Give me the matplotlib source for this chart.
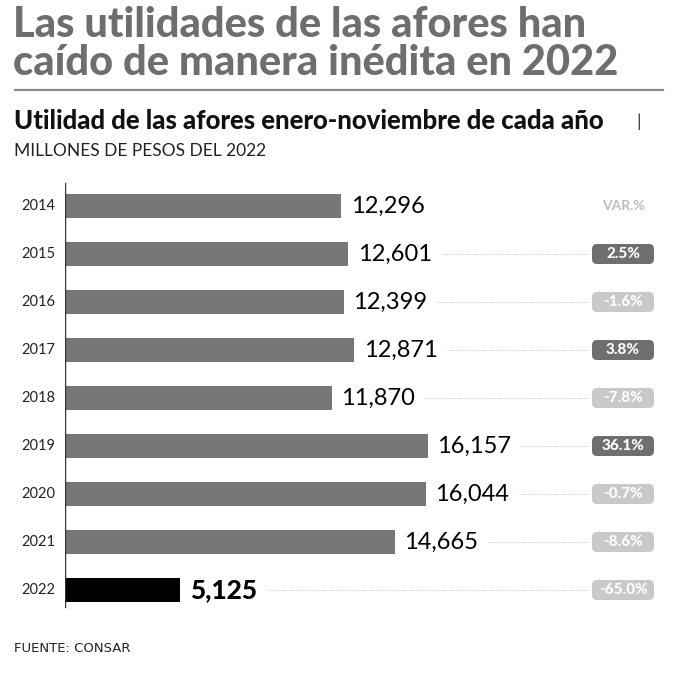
import matplotlib.pyplot as plt
from matplotlib.patches import FancyBboxPatch
from matplotlib.transforms import IdentityTransform

years = ['2014', '2015', '2016', '2017', '2018', '2019', '2020', '2021', '2022']
utilidad = [12296, 12601, 12399, 12871, 11870, 16157, 16044, 14665, 5125]
variacion = [None, 2.5, -1.6, 3.8, -7.8, 36.1, -0.7, -8.6, -65.0]

W, H = 679, 679
fig = plt.figure(figsize=(W / 100, H / 100), dpi=100)

def px(x, y):
    # pixel coords (top-left origin) -> figure fraction
    return x / W, 1 - y / H

# titles
fig.text(*px(13, 25), 'Las utilidades de las afores han', fontsize=30,
         fontweight='black', color='#6e6e6e', family='Lato', va='center')
fig.text(*px(13, 63), 'caído de manera inédita en 2022', fontsize=30,
         fontweight='black', color='#6e6e6e', family='Lato', va='center')
fig.add_artist(plt.Line2D([15 / W, 663 / W], [1 - 90 / H, 1 - 90 / H],
                          color='#8a8a8a', lw=1.6))
fig.text(*px(14, 121), 'Utilidad de las afores enero-noviembre de cada año',
         fontsize=18.5, fontweight='black', color='#111111', family='Lato', va='center')
fig.text(*px(636, 122), '|', fontsize=13, color='#333333', family='Lato', va='center')
fig.text(*px(14, 151), 'MILLONES DE PESOS DEL 2022', fontsize=12.5,
         color='#222222', family='Lato', va='center')
fig.text(*px(14, 648), 'FUENTE: CONSAR', fontsize=9.5, color='#222222',
         family='Liberation Sans Narrow', va='center')

# axes: rows of 48 px starting at y=182
ax = fig.add_axes([65 / W, 1 - 614 / H, (W - 65) / W, 432 / H])
scale = 0.02247  # px per unit
ax.set_xlim(0, (W - 65) / scale)
ax.set_ylim(len(years) - 0.5, -0.5)
ax.axis('off')
ax.plot([0, 0], [-0.48, len(years) - 0.65], color='#333333', lw=1)

pos = list(range(len(years)))
colors = ['#777777'] * (len(years) - 1) + ['#000000']
ax.barh(pos, utilidad, height=0.5, color=colors)

fig.canvas.draw()
renderer = fig.canvas.get_renderer()
to_disp = ax.transData.transform
inv = ax.transData.inverted()

for i, (yr, v, var) in enumerate(zip(years, utilidad, variacion)):
    last = i == len(years) - 1
    ax.text(-430, i, yr, ha='right', va='center', fontsize=10.5,
            family='Lato', color='#222222')
    t = ax.text(v + 420, i, f'{v:,}', ha='left', va='center',
                fontsize=17 if not last else 19,
                fontweight='black' if last else 'normal',
                family='Lato', color='#000000')
    bb = t.get_window_extent(renderer=renderer)
    xd, yd = to_disp((0, i))
    bx0, bx1 = 592, 654  # badge in pixels from left
    xc = inv.transform(((bx0 + bx1) / 2, yd))[0]
    if var is None:
        ax.text(xc, i, 'VAR.%', ha='center', va='center', fontsize=10,
                fontweight='bold', family='Lato', color='#bdbdbd')
        continue
    x_start = inv.transform((bb.x1 + 10, yd))[0]
    x_end = inv.transform((bx0 - 4, yd))[0]
    ax.plot([x_start, x_end], [i, i], color='#cfcfcf', lw=0.8, ls=(0, (1, 1)))
    fc = '#6f6f6f' if var > 0 else '#c9c9c9'
    patch = FancyBboxPatch((bx0 + 4, yd - 6), bx1 - bx0 - 8, 12,
                           boxstyle='round,pad=4,rounding_size=5',
                           transform=IdentityTransform(), facecolor=fc,
                           edgecolor='none', zorder=3, clip_on=False)
    ax.add_artist(patch)
    ax.text(xc, i, f'{var:.1f}%', ha='center', va='center', fontsize=11,
            fontweight='black', family='Lato', color='white', zorder=5)

fig.savefig('out.png', dpi=100, facecolor='white')
